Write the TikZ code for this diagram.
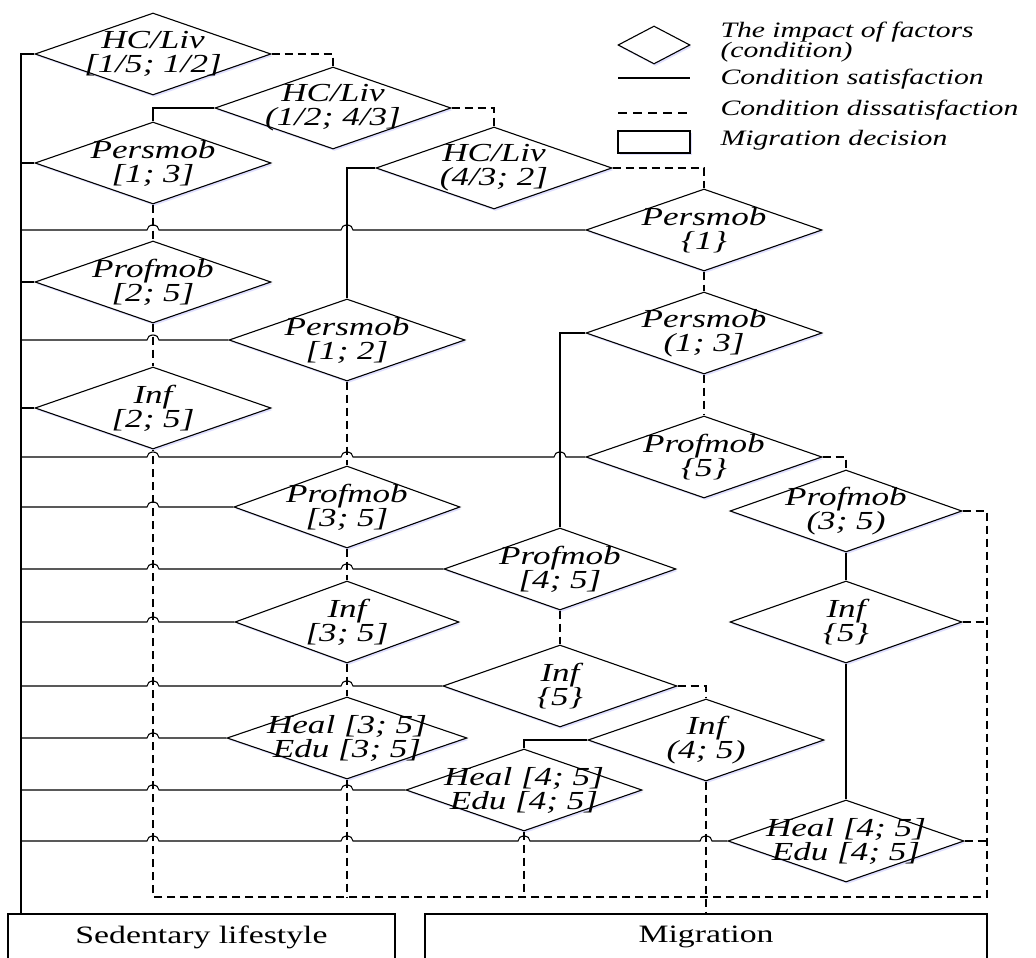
\documentclass[tikz,border=0pt]{standalone}
\usepackage{fontspec}
\newfontfamily\diafont{Liberation Serif}[FakeStretch=1.35]
\usetikzlibrary{shapes.geometric,calc,shadows}

\tikzset{
  yes/.style={line width=1.1pt},
  no/.style={line width=1.1pt, dash pattern=on 8pt off 5pt},
  cond/.style={diamond, draw, line width=1.1pt, fill=white, inner sep=0pt,
    minimum width=236pt, minimum height=82pt,
    drop shadow={shadow xshift=1.5pt, shadow yshift=-2pt, fill=blue!25!white, opacity=0.5}},
  condtext/.style={font=\diafont\itshape\fontsize{26}{24}\selectfont, align=center},
  decision/.style={draw, rectangle, line width=1.1pt, font=\diafont\fontsize{25}{30}\selectfont},
  legtext/.style={font=\diafont\itshape\fontsize{22}{20}\selectfont, align=left, anchor=west},
}
% hop of a horizontal line over a vertical one
\newcommand{\hopover}[2]{-- ($(#1 |- #2)+(-6,0)$) arc[start angle=180, end angle=0, x radius=6pt, y radius=5pt]}

\begin{document}
\begin{tikzpicture}[x=1pt, y=-1pt]
  \useasboundingbox (0,0) rectangle (1036,958);

  % Conditions
  \node[cond, label={[condtext]center:{HC/Liv\\{[1/5; 1/2]}}}] (d1) at (153,54) {};
  \node[cond, label={[condtext]center:{HC/Liv\\{(1/2; 4/3]}}}] (d2) at (333,108) {};
  \node[cond, label={[condtext]center:{Persmob\\{[1; 3]}}}] (d3) at (153,163) {};
  \node[cond, label={[condtext]center:{HC/Liv\\{(4/3; 2]}}}] (d4) at (494,168) {};
  \node[cond, label={[condtext]center:{Persmob\\\{1\}}}] (d5) at (704,230) {};
  \node[cond, label={[condtext]center:{Profmob\\{[2; 5]}}}] (d6) at (153,282) {};
  \node[cond, label={[condtext]center:{Persmob\\{[1; 2]}}}] (d7) at (347,340) {};
  \node[cond, label={[condtext]center:{Persmob\\{(1; 3]}}}] (d8) at (704,333) {};
  \node[cond, label={[condtext]center:{Inf\\{[2; 5]}}}] (d9) at (153,408) {};
  \node[cond, label={[condtext]center:{Profmob\\\{5\}}}] (d10) at (704,457) {};
  \node[cond, minimum width=226pt, label={[condtext]center:{Profmob\\{[3; 5]}}}] (d11) at (347,507) {};
  \node[cond, minimum width=232pt, label={[condtext]center:{Profmob\\{(3; 5)}}}] (d12) at (846,511) {};
  \node[cond, minimum width=232pt, label={[condtext]center:{Profmob\\{[4; 5]}}}] (d13) at (560,569) {};
  \node[cond, minimum width=224pt, label={[condtext]center:{Inf\\{[3; 5]}}}] (d14) at (347,622) {};
  \node[cond, minimum width=232pt, label={[condtext]center:{Inf\\\{5\}}}] (d15) at (846,622) {};
  \node[cond, minimum width=234pt, label={[condtext]center:{Inf\\\{5\}}}] (d16) at (560,686) {};
  \node[cond, minimum width=240pt, label={[condtext]center:{Heal [3; 5]\\{Edu [3; 5]}}}] (d17) at (347,738) {};
  \node[cond, label={[condtext]center:{Inf\\{(4; 5)}}}] (d18) at (706,740) {};
  \node[cond, label={[condtext]center:{Heal [4; 5]\\{Edu [4; 5]}}}] (d19) at (524,790) {};
  \node[cond, label={[condtext]center:{Heal [4; 5]\\{Edu [4; 5]}}}] (d20) at (846,841) {};

  % Decisions
  \node[decision, minimum width=387pt, minimum height=46pt] (sed) at (201.5,937) {Sedentary lifestyle};
  \node[decision, minimum width=562pt, minimum height=46pt] (mig) at (706,937) {Migration};
  \coordinate (trunk) at (21,914);
  \coordinate (bot) at (987,897);

  % Legend
  \node[cond, minimum width=72pt, minimum height=38pt] (legcond) at (654,45) {};
  \node[legtext] (legcondtxt) at (717,42) {The impact of factors\\(condition)};
  \coordinate (legyesa) at (618,78);
  \coordinate (legyesb) at (690,78);
  \draw[yes] (legyesa) -- (legyesb);
  \node[legtext] (legyestxt) at (717,79) {Condition satisfaction};
  \coordinate (legnoa) at (618,113);
  \coordinate (legnob) at (690,113);
  \draw[line width=1.1pt, dash pattern=on 9pt off 6pt] (legnoa) -- (legnob);
  \node[legtext] (legnotxt) at (717,110) {Condition dissatisfaction};
  \node[draw, line width=1.1pt, minimum width=72pt, minimum height=22pt,
    drop shadow={shadow xshift=1.5pt, shadow yshift=-2pt, fill=blue!25!white, opacity=0.5}, fill=white] (legdec) at (654,142) {};
  \node[legtext] (legdectxt) at (717,140) {Migration decision};

  % Satisfaction
  \draw[yes] (d1.west) -- (trunk |- d1.west) -- (trunk);
  \foreach \n in {d3,d6,d9}
    \draw[yes] (trunk |- \n.west) -- (\n.west);
  \draw[yes] (trunk |- d5.west) \hopover{d3.south}{d5.west} \hopover{d7.north}{d5.west} -- (d5.west);
  \draw[yes] (trunk |- d7.west) \hopover{d6.south}{d7.west} -- (d7.west);
  \draw[yes] (trunk |- d10.west) \hopover{d9.south}{d10.west} \hopover{d7.south}{d10.west} \hopover{d13.north}{d10.west} -- (d10.west);
  \draw[yes] (trunk |- d11.west) \hopover{d9.south}{d11.west} -- (d11.west);
  \draw[yes] (trunk |- d13.west) \hopover{d9.south}{d13.west} \hopover{d7.south}{d13.west} -- (d13.west);
  \draw[yes] (trunk |- d14.west) \hopover{d9.south}{d14.west} -- (d14.west);
  \draw[yes] (trunk |- d16.west) \hopover{d9.south}{d16.west} \hopover{d7.south}{d16.west} -- (d16.west);
  \draw[yes] (trunk |- d17.west) \hopover{d9.south}{d17.west} -- (d17.west);
  \draw[yes] (trunk |- d19.west) \hopover{d9.south}{d19.west} \hopover{d7.south}{d19.west} -- (d19.west);
  \draw[yes] (trunk |- d20.west) \hopover{d9.south}{d20.west} \hopover{d7.south}{d20.west} \hopover{d19.south}{d20.west} \hopover{d18.south}{d20.west} -- (d20.west);
  \draw[yes] (d2.west) -| (d3.north);
  \draw[yes] (d4.west) -| (d7.north);
  \draw[yes] (d8.west) -| (d13.north);
  \draw[yes] (d18.west) -| (d19.north);
  \draw[yes] (d12.south) -- (d15.north);
  \draw[yes] (d15.south) -- (d20.north);

  % Dissatisfaction
  \draw[no] (d1.east) -| (d2.north);
  \draw[no] (d2.east) -| (d4.north);
  \draw[no] (d4.east) -| (d5.north);
  \draw[no] (d10.east) -| (d12.north);
  \draw[no] (d16.east) -| (d18.north);
  \foreach \a/\b in {d3/d6, d6/d9, d5/d8, d8/d10, d7/d11, d11/d14, d13/d16, d14/d17}
    \draw[no] (\a.south) -- (\b.north);
  \draw[no] (d12.east) -| (bot) -- (d9.south |- bot) -- (d9.south);
  \draw[no] (d17.south) -- (d17.south |- bot);
  \draw[no] (d19.south) -- (d19.south |- bot);
  \draw[no] (d18.south) -- (d18.south |- mig.north);
  \draw[no] (d15.east) -- (d15.east -| bot);
  \draw[no] (d20.east) -- (d20.east -| bot);
\end{tikzpicture}
\end{document}
